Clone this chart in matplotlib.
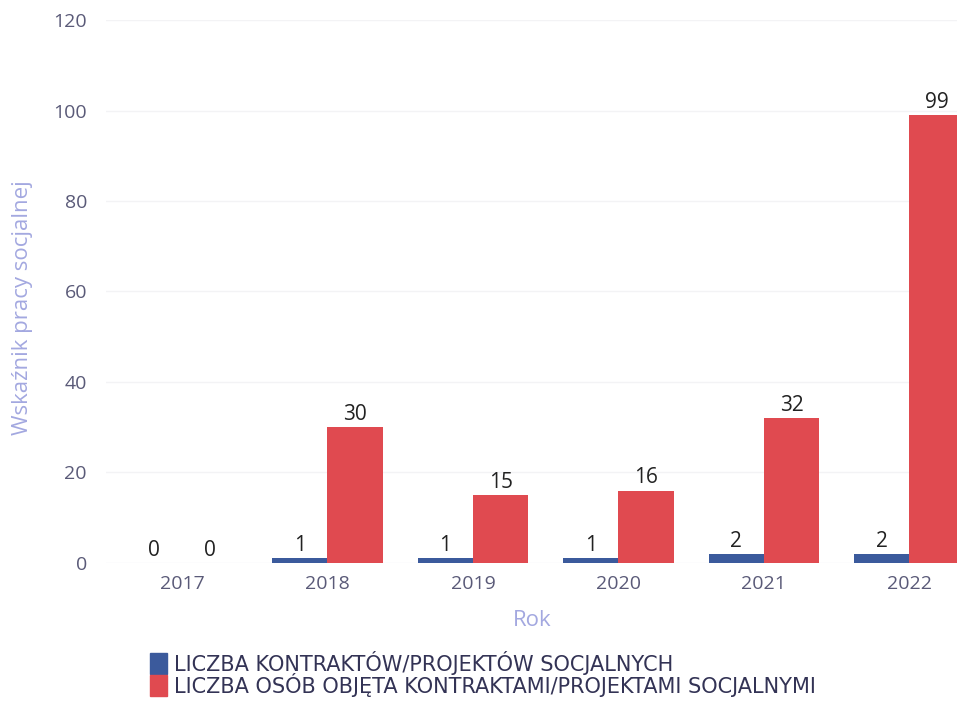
import numpy as np
from matplotlib import pyplot as plt
from matplotlib.patches import Patch

years = ["2017", "2018", "2019", "2020", "2021", "2022"]
kontrakty = [0, 1, 1, 1, 2, 2]
osoby = [0, 30, 15, 16, 32, 99]

series_names = [
    "LICZBA KONTRAKTÓW/PROJEKTÓW SOCJALNYCH",
    "LICZBA OSÓB OBJĘTA KONTRAKTAMI/PROJEKTAMI SOCJALNYMI",
]

blue = "#3b5a9c"
red = "#e04a50"
tick_col = "#5a5a78"
label_col = "#a3a8e0"

plt.rcParams["font.family"] = ["Open Sans", "DejaVu Sans"]

fig = plt.figure(figsize=(9.67, 7.07), dpi=100)
ax = fig.add_axes([0.11, 0.2037, 0.88, 0.768])

x = np.arange(len(years))
w = 0.38
b1 = ax.bar(x - w / 2, kontrakty, w, color=blue)
b2 = ax.bar(x + w / 2, osoby, w, color=red)

for bars, vals in ((b1, kontrakty), (b2, osoby)):
    for rect, v in zip(bars, vals):
        ax.text(rect.get_x() + rect.get_width() / 2, rect.get_height() + 0.5,
                str(v), ha="center", va="bottom", fontsize=15, color="#222222")

ax.set_xlim(-0.52, 5.33)
ax.set_ylim(0, 120)
ax.set_yticks(range(0, 121, 20))
ax.set_xticks(x)
ax.set_xticklabels(years)
ax.tick_params(axis="both", length=0, labelsize=14, colors=tick_col)
ax.tick_params(axis="y", pad=14)
ax.tick_params(axis="x", pad=9)
ax.grid(axis="y", color="#f3f3f5", linewidth=1)
ax.set_axisbelow(True)
for s in ax.spines.values():
    s.set_visible(False)

ax.set_ylabel("Wskaźnik pracy socjalnej", fontsize=16, color=label_col)
ax.yaxis.set_label_coords(-0.086, 0.47)
ax.set_xlabel("Rok", fontsize=16, color=label_col, labelpad=12)

handles = [Patch(color=blue), Patch(color=red)]
fig.legend(handles, series_names, loc="lower left", bbox_to_anchor=(0.136, -0.012),
           frameon=False, handlelength=0.8, handleheight=1.2,
           handletextpad=0.35, labelspacing=-0.1, labelcolor="#333355",
           prop={"family": "DejaVu Sans", "size": 15})

fig.savefig("out.png", dpi=100)
